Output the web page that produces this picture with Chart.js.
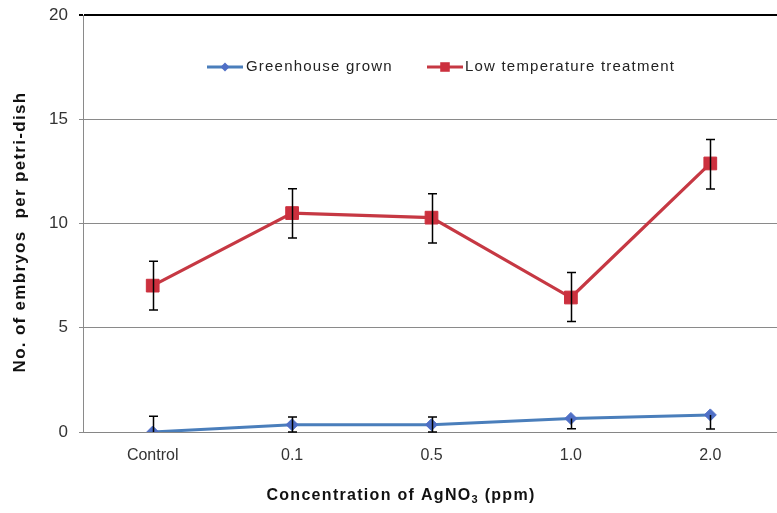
<!DOCTYPE html>
<html><head><meta charset="utf-8">
<script src="https://cdn.jsdelivr.net/npm/chart.js@4/dist/chart.umd.min.js"></script>
<style>html,body{margin:0;padding:0;overflow:hidden;background:#fff;width:777px;height:513px}canvas{display:block}</style>
</head><body><canvas id="c" width="790" height="513"></canvas>
<script>
const categories = ['Control', '0.1', '0.5', '1.0', '2.0'];
const seriesNames = ['Greenhouse grown', 'Low temperature treatment'];
const greenhouse = [0, 0.35, 0.35, 0.65, 0.82];
const greenhouseErrUp = [0.75, 0.37, 0.37, 0, 0];
const greenhouseErrDown = [0, 0.35, 0.35, 0.5, 0.68];
const lowTemp = [7.02, 10.5, 10.28, 6.45, 12.88];
const lowTempErrUp = [1.17, 1.17, 1.15, 1.2, 1.15];
const lowTempErrDown = [1.17, 1.2, 1.22, 1.15, 1.22];
const yTicks = [0, 5, 10, 15, 20];

const BLUE = '#4A7EBB', BLUE_M = '#4F6FC6';
const RED = '#C63843', RED_M = '#CC303E';

const errorBars = {
  id: 'errorBars',
  afterDatasetsDraw(chart) {
    const ctx = chart.ctx, y = chart.scales.y;
    ctx.save();
    ctx.strokeStyle = '#000';
    ctx.lineWidth = 1.5;
    chart.data.datasets.forEach((ds, i) => {
      const meta = chart.getDatasetMeta(i);
      meta.data.forEach((pt, j) => {
        const v = ds.data[j];
        const top = y.getPixelForValue(v + ds.errUp[j]);
        const bot = y.getPixelForValue(v - ds.errDown[j]);
        const x = Math.round(pt.x) + 0.5;
        ctx.beginPath();
        ctx.moveTo(x, top); ctx.lineTo(x, bot);
        if (ds.errUp[j] > 0) { ctx.moveTo(x - 4.5, top); ctx.lineTo(x + 4.5, top); }
        if (ds.errDown[j] > 0) { ctx.moveTo(x - 4.5, bot); ctx.lineTo(x + 4.5, bot); }
        ctx.stroke();
      });
    });
    ctx.restore();
  }
};

const decorations = {
  id: 'decorations',
  afterDraw(chart) {
    const ctx = chart.ctx;
    ctx.save();
    // legend
    const items = [
      {x0: 207, x1: 243, tx: 246, ds: chart.data.datasets[0]},
      {x0: 427, x1: 463, tx: 465, ds: chart.data.datasets[1]}
    ];
    const ly = 67;
    items.forEach(it => {
      ctx.strokeStyle = it.ds.borderColor;
      ctx.lineWidth = 3;
      ctx.beginPath(); ctx.moveTo(it.x0, ly); ctx.lineTo(it.x1, ly); ctx.stroke();
      ctx.fillStyle = it.ds.pointBackgroundColor;
      ctx.beginPath();
      const r = it.ds.pointRadius * 0.75;
      const cx = (it.x0 + it.x1) / 2;
      if (it.ds.pointStyle === 'rect') { const s = r * Math.SQRT1_2; ctx.rect(cx - s, ly - s, 2 * s, 2 * s); }
      else { ctx.moveTo(cx, ly - r); ctx.lineTo(cx + r, ly); ctx.lineTo(cx, ly + r); ctx.lineTo(cx - r, ly); ctx.closePath(); }
      ctx.fill();
      ctx.fillStyle = '#222';
      ctx.font = '15px "Liberation Sans", Arial, sans-serif';
      ctx.letterSpacing = '1.2px';
      ctx.textAlign = 'left'; ctx.textBaseline = 'middle';
      ctx.fillText(it.ds.label, it.tx, ly);
    });
    // y title
    ctx.fillStyle = '#111';
    ctx.font = 'bold 17px "Liberation Sans", Arial, sans-serif';
    ctx.letterSpacing = '1.3px';
    ctx.textAlign = 'center'; ctx.textBaseline = 'middle';
    ctx.save();
    ctx.translate(20, 232);
    ctx.rotate(-Math.PI / 2);
    ctx.fillText('No. of embryos  per petri-dish', 0, 0);
    ctx.restore();
    // x title with subscript
    const parts = [['Concentration of AgNO', 'bold 16px "Liberation Sans", Arial, sans-serif', 0],
                   ['3', 'bold 11px "Liberation Sans", Arial, sans-serif', 4],
                   [' (ppm)', 'bold 16px "Liberation Sans", Arial, sans-serif', 0]];
    ctx.letterSpacing = '1.3px';
    let total = 0;
    parts.forEach(p => { ctx.font = p[1]; total += ctx.measureText(p[0]).width; });
    let x = 401 - total / 2;
    ctx.textAlign = 'left';
    parts.forEach(p => { ctx.font = p[1]; ctx.fillText(p[0], x, 496 + p[2]); x += ctx.measureText(p[0]).width; });
    ctx.restore();
  }
};

new Chart(document.getElementById('c'), {
  type: 'line',
  data: {
    labels: categories,
    datasets: [
      {label: seriesNames[0], data: greenhouse, errUp: greenhouseErrUp, errDown: greenhouseErrDown,
       borderColor: BLUE, borderWidth: 3, pointStyle: 'rectRot', pointRadius: 6,
       pointBackgroundColor: BLUE_M, pointBorderColor: BLUE_M, pointBorderWidth: 1, tension: 0},
      {label: seriesNames[1], data: lowTemp, errUp: lowTempErrUp, errDown: lowTempErrDown,
       borderColor: RED, borderWidth: 3.2, pointStyle: 'rect', pointRadius: 9,
       pointBackgroundColor: RED_M, pointBorderColor: RED_M, pointBorderWidth: 1, tension: 0}
    ]
  },
  options: {
    responsive: false,
    animation: false,
    devicePixelRatio: 1,
    layout: {padding: {left: 0, right: 8.5, top: 15, bottom: 0}},
    plugins: {legend: {display: false}, tooltip: {enabled: false}},
    scales: {
      x: {
        offset: true,
        grid: {display: false},
        border: {color: '#868686', width: 1},
        ticks: {color: '#333', font: {size: 16, family: '"Liberation Sans", Arial, sans-serif'}, padding: 6},
        afterFit: s => { s.height = 81; }
      },
      y: {
        min: 0, max: 20,
        afterBuildTicks: s => { s.ticks = yTicks.map(v => ({value: v})); },
        grid: {
          color: c => (c.tick && c.tick.value === 20) ? '#000' : '#8a8a8a',
          lineWidth: c => (c.tick && c.tick.value === 20) ? 2 : 1,
          tickLength: 4
        },
        border: {color: '#8a8a8a', width: 1},
        ticks: {color: '#333', font: {size: 17, family: '"Liberation Sans", Arial, sans-serif'}, padding: 11},
        afterFit: s => { s.width = 83; s.paddingTop = 0; s.paddingBottom = 0; }
      }
    }
  },
  plugins: [errorBars, decorations]
});
</script>
</body></html>
